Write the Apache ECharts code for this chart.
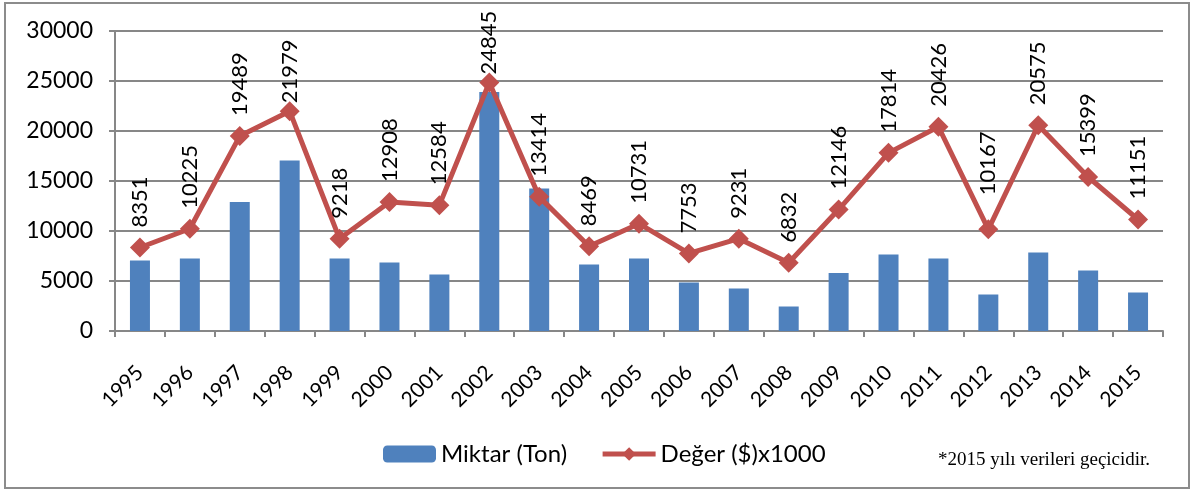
<!DOCTYPE html>
<html>
<head>
<meta charset="utf-8">
<script src="https://cdn.jsdelivr.net/npm/echarts@6/dist/echarts.min.js"></script>
<style>
  html, body { margin: 0; padding: 0; background: #fff; }
  #chart { width: 1196px; height: 494px; }
</style>
</head>
<body>
<div id="chart"></div>
<script>
var years = ['1995', '1996', '1997', '1998', '1999', '2000', '2001', '2002', '2003', '2004', '2005',
  '2006', '2007', '2008', '2009', '2010', '2011', '2012', '2013', '2014', '2015']
// Miktar (Ton)
var miktar = [7050, 7250, 12900, 17050, 7250, 6850, 5650, 23900, 14250, 6650, 7250,
  4850, 4250, 2450, 5800, 7650, 7250, 3650, 7850, 6050, 3850]
// Deger ($)x1000 - from the point labels
var deger = [8351, 10225, 19489, 21979, 9218, 12908, 12584, 24845, 13414, 8469, 10731,
  7753, 9231, 6832, 12146, 17814, 20426, 10167, 20575, 15399, 11151]

var font = 'Lato, "Open Sans", sans-serif'
var gridGray = '#878787'

// excel nudged a few labels closer / further from their marker
var labelDist = { 3: -6, 7: -6, 17: 20 }

function lineData (vals) {
  var out = []
  for (var i = 0; i < vals.length; i++) {
    if (labelDist[i] !== undefined) {
      out.push({ value: vals[i], label: { distance: labelDist[i] } })
    } else {
      out.push(vals[i])
    }
  }
  return out
}

var chart = echarts.init(document.getElementById('chart'))

var option = {
  animation: false,
  textStyle: { fontFamily: font },
  grid: { left: 115, right: 33, top: 31, bottom: 163 },
  legend: {
    left: 378,
    top: 437,
    itemWidth: 53,
    itemHeight: 17,
    itemGap: 33,
    textStyle: { fontSize: 24, color: '#000', fontFamily: font },
    data: [
      'Miktar (Ton)',
      { name: 'Değer ($)x1000', lineStyle: { width: 5 } }
    ]
  },
  xAxis: {
    type: 'category',
    data: years,
    axisLine: { lineStyle: { color: gridGray, width: 2 } },
    axisTick: { show: true, length: 6, lineStyle: { color: gridGray, width: 2 } },
    axisLabel: { rotate: 45, fontSize: 21, color: '#000', margin: 38, interval: 0 }
  },
  yAxis: {
    type: 'value',
    min: 0,
    max: 30000,
    interval: 5000,
    axisLine: { show: true, lineStyle: { color: gridGray, width: 2 } },
    axisTick: { show: true, length: 6, lineStyle: { color: gridGray, width: 2 } },
    axisLabel: {
      fontSize: 23,
      color: '#000',
      margin: 22,
      formatter: function (v) { return String(v) }
    },
    splitLine: { lineStyle: { color: gridGray, width: 2 } }
  },
  series: [
    {
      name: 'Miktar (Ton)',
      type: 'bar',
      data: miktar,
      barWidth: 20,
      itemStyle: { color: '#4F81BD' }
    },
    {
      name: 'Değer ($)x1000',
      type: 'line',
      data: lineData(deger),
      symbol: 'diamond',
      symbolSize: 20,
      lineStyle: { color: '#C0504D', width: 5 },
      itemStyle: { color: '#C0504D' },
      label: {
        show: true,
        position: 'top',
        rotate: 90,
        align: 'left',
        verticalAlign: 'middle',
        distance: 6,
        offset: [4, 0],
        fontSize: 22,
        color: '#000'
      }
    }
  ],
  graphic: [
    {
      type: 'rect',
      shape: { x: 5, y: 3, width: 1184, height: 485 },
      style: { fill: null, stroke: '#8c8c8c', lineWidth: 2 }
    },
    {
      type: 'text',
      left: 938,
      top: 451,
      style: {
        text: '*2015 yılı verileri geçicidir.',
        font: '19px "Liberation Serif", serif',
        fill: '#000'
      }
    }
  ]
}

chart.setOption(option)
</script>
</body>
</html>
